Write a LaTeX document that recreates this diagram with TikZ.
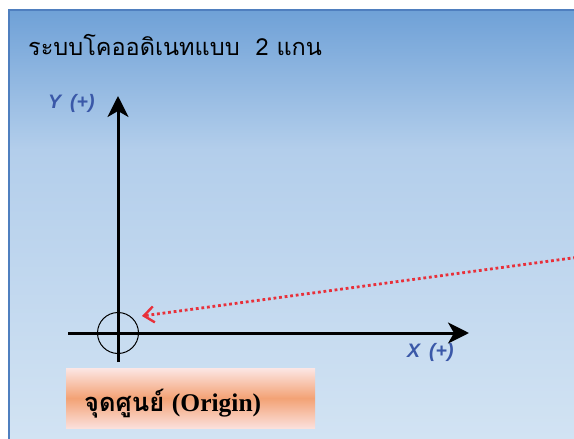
\documentclass[tikz,border=0pt]{standalone}
\usepackage{fontspec}
\usetikzlibrary{arrows.meta}
\newfontfamily\thaifont[Script=Thai]{Loma}
\newfontfamily\lsans{Liberation Sans}
\newfontfamily\lserif{Liberation Serif}
\definecolor{panelA}{HTML}{6FA1D7}
\definecolor{panelB}{HTML}{B3CEEB}
\definecolor{panelC}{HTML}{D2E3F3}
\definecolor{panelborder}{HTML}{4F7FBF}
\definecolor{labelblue}{HTML}{3A58A8}
\definecolor{dotred}{HTML}{E8303A}
\definecolor{opinkT}{HTML}{FCE6E4}
\definecolor{opinkB}{HTML}{FBE0DC}
\definecolor{oorange}{HTML}{F3A275}
\tikzset{
  axis/.style={line width=3pt, -{Stealth[length=21pt,width=21pt,inset=6pt]}},
  axlabel/.style={anchor=base west, inner sep=0pt, text=labelblue, font=\lsans\fontsize{19.5}{21}\selectfont},
  redarrow/.style={dotred, line width=2.8pt, dash pattern=on 2.8pt off 2.8pt, -{Straight Barb[length=10pt,width=16pt,line width=2.4pt]}},
  originbox/.style={top color=opinkT, bottom color=opinkB, middle color=oorange, inner sep=0pt, minimum width=249pt, minimum height=60pt}
}
\begin{document}
\begin{tikzpicture}[x=1pt,y=-1pt]
\useasboundingbox (0,0) rectangle (574,439);
\fill[white] (0,0) rectangle (574,439);
\shade[top color=panelA, bottom color=panelB] (9,10) rectangle (574,150);
\shade[top color=panelB, bottom color=panelC] (9,149.5) rectangle (574,439);
\draw[panelborder, line width=1.6pt] (9,439) -- (9,10) -- (574,10);

\node[anchor=base west, inner sep=0pt, font=\thaifont\fontsize{23.5}{28}\selectfont] (title) at (28,56) {ระบบโคออดิเนทแบบ\ \ 2 แกน};

\coordinate (O) at (118,333);
\coordinate (ytip) at (118,96);
\coordinate (ybot) at (118,362);
\coordinate (xleft) at (68,333);
\coordinate (xtip) at (469,333);
\draw[axis] (ybot) -- (ytip);
\draw[axis] (xleft) -- (xtip);
\node[circle, draw, line width=1pt, minimum size=41pt, inner sep=0pt] (orig) at (O) {};

\node[axlabel] (ylab) at (48,108) {\bfseries\itshape Y\hspace{9pt}\itshape(+)};
\node[axlabel] (xlab) at (407,357) {\bfseries\itshape X\hspace{9pt}\itshape(+)};

\coordinate (rstart) at (576,257.5);
\coordinate (rtip) at (142,316);
\draw[redarrow] (rstart) -- (rtip);

\node[originbox, anchor=north west] (obox) at (66,368) {};
\node[anchor=west, inner sep=0pt, font=\fontsize{25.5}{28}\selectfont] (otext) at ([xshift=18pt,yshift=-5pt]obox.west) {{\thaifont\bfseries จุดศูนย์} {\lserif\bfseries (Origin)}};
\end{tikzpicture}
\end{document}
